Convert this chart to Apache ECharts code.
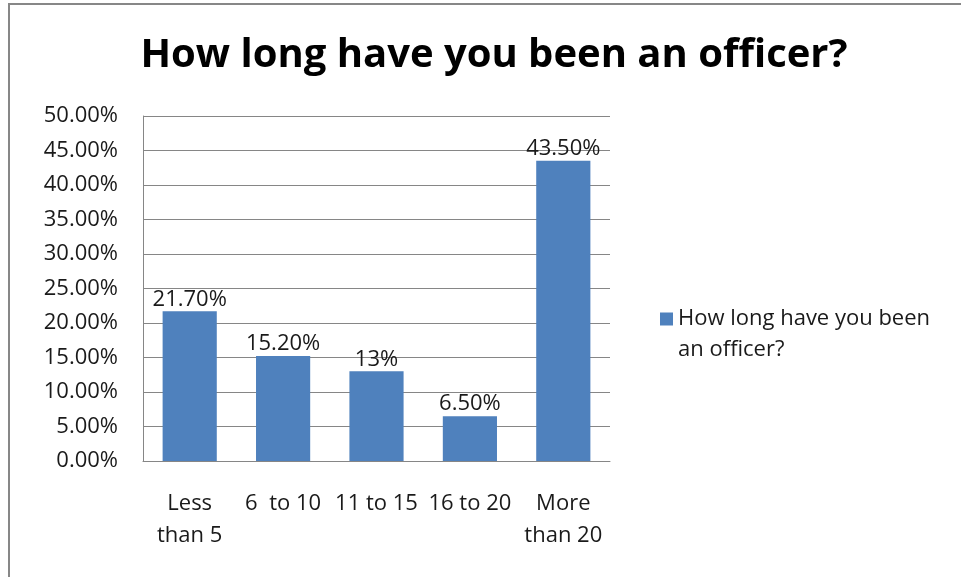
<!DOCTYPE html>
<html>
<head>
<meta charset="utf-8">
<script src="https://cdn.jsdelivr.net/npm/echarts@6/dist/echarts.min.js"></script>
<style>
  html, body { margin: 0; padding: 0; background: #fff; }
  #chart { width: 961px; height: 577px; }
</style>
</head>
<body>
<div id="chart"></div>
<script>
// Years of service categories and the share of officers in each
const categories = ['Less\nthan 5', '6  to 10', '11 to 15', '16 to 20', 'More\nthan 20'];
const shares = [21.7, 15.2, 13, 6.5, 43.5];
const shareLabels = ['21.70%', '15.20%', '13%', '6.50%', '43.50%'];
const yTicks = [0, 5, 10, 15, 20, 25, 30, 35, 40, 45, 50];

const seriesName = 'How long have you been an officer?';
const legendLines = ['How long have you been', 'an officer?'];
const FONT = '"Open Sans", Lato, sans-serif';
const TXT = 22;

const chart = echarts.init(document.getElementById('chart'), null, { renderer: 'canvas' });

chart.setOption({
  animation: false,
  backgroundColor: '#ffffff',
  graphic: [{
    type: 'rect',
    shape: { x: 9, y: 4, width: 980, height: 600 },
    style: { fill: 'none', stroke: '#878787', lineWidth: 2 },
    silent: true
  }],
  title: {
    text: 'How long have you been an officer?',
    left: 489,
    textAlign: 'center',
    top: 31,
    textStyle: { fontFamily: FONT, fontWeight: 'bold', fontSize: 40, color: '#000' }
  },
  legend: {
    left: 655,
    top: 272,
    itemWidth: 13,
    itemHeight: 13,
    icon: 'rect',
    data: [seriesName],
    // an empty leading line keeps the marker level with the first text line
    formatter: () => '{pad| }\n{t|' + legendLines[0] + '}\n{t|' + legendLines[1] + '}',
    textStyle: {
      fontFamily: FONT, fontSize: TXT, color: '#1a1a1a',
      rich: {
        pad: { fontFamily: FONT, fontSize: TXT, lineHeight: 31 },
        t: { fontFamily: FONT, fontSize: TXT, lineHeight: 31, color: '#1a1a1a' }
      }
    }
  },
  grid: { left: 143, right: 351, top: 116, bottom: 116, containLabel: false },
  xAxis: {
    type: 'category',
    data: categories,
    axisLine: { show: true, lineStyle: { color: '#868686', width: 1 } },
    axisTick: { show: false },
    axisLabel: {
      margin: 27, interval: 0, lineHeight: 32,
      fontFamily: FONT, fontSize: TXT, color: '#1a1a1a'
    }
  },
  yAxis: {
    type: 'value',
    min: yTicks[0],
    max: yTicks[yTicks.length - 1],
    interval: yTicks[1] - yTicks[0],
    axisLine: { show: true, lineStyle: { color: '#868686', width: 1 } },
    axisTick: { show: false },
    splitLine: { show: true, lineStyle: { color: '#868686', width: 1 } },
    axisLabel: {
      margin: 25,
      fontFamily: FONT, fontSize: TXT, color: '#1a1a1a',
      formatter: v => v.toFixed(2) + '%'
    }
  },
  series: [{
    name: seriesName,
    type: 'bar',
    data: shares,
    barWidth: '58%',
    itemStyle: { color: '#4F81BD' },
    label: {
      show: true,
      position: 'top',
      distance: 1,
      fontFamily: FONT, fontSize: TXT, color: '#1a1a1a',
      formatter: p => shareLabels[p.dataIndex]
    }
  }]
});
</script>
</body>
</html>
